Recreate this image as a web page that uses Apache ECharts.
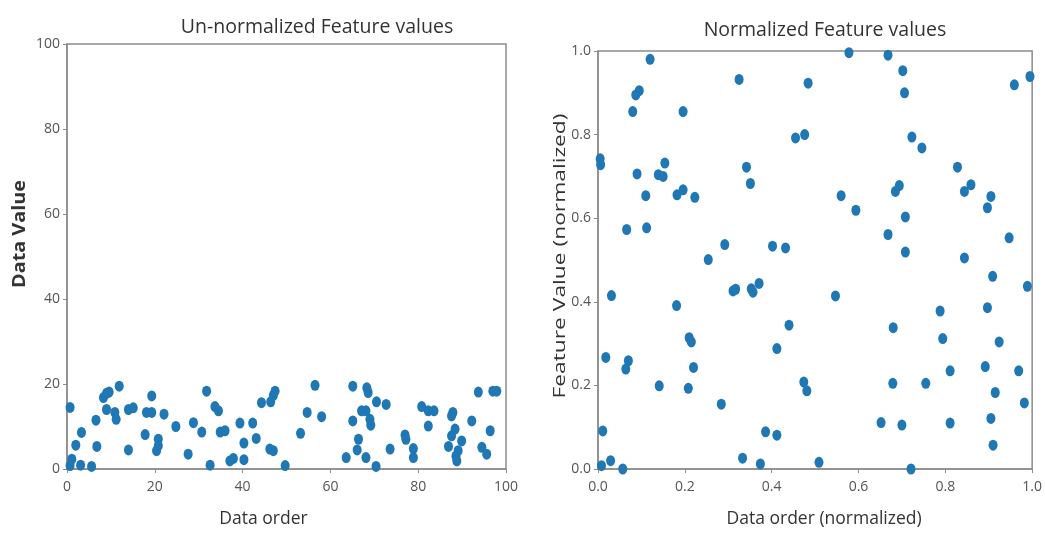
<!DOCTYPE html>
<html>
<head>
<meta charset="utf-8">
<title>Feature values</title>
<script src="https://cdn.jsdelivr.net/npm/echarts@6/dist/echarts.min.js"></script>
<style>
  html, body { margin: 0; padding: 0; background: #fff; }
  #chart { width: 1045px; height: 533px; }
</style>
</head>
<body>
<div id="chart"></div>
<script>
// left panel: raw values (data order 0..100, value 0..100)
var rawX = [0.7, 1.1, 0.7, 2.0, 3.3, 3.1, 5.6, 6.6, 6.8, 8.3, 9.0, 9.6, 9.0, 10.9, 11.2, 11.9,
  14.0, 15.1, 14.0, 17.8, 18.1, 19.3, 19.3, 20.8, 20.8, 20.4, 22.1, 24.8, 27.6, 28.8, 30.7,
  31.8, 32.6, 33.7, 34.5, 34.9, 36.0, 37.1, 37.9, 39.4, 40.3, 40.3, 42.3, 43.1, 44.3, 46.4,
  47.0, 47.4, 46.2, 47.0, 49.7, 56.5, 54.7, 58.0, 53.2, 65.1, 68.3, 68.6, 70.5, 72.7, 67.1,
  68.1, 65.1, 69.0, 69.2, 66.4, 66.1, 63.6, 68.1, 70.4, 73.6, 77.0, 77.2, 78.9, 78.9, 80.8,
  82.3, 83.6, 82.3, 87.9, 87.6, 88.4, 87.6, 89.9, 86.9, 89.1, 88.6, 88.8, 92.2, 93.7, 97.0,
  97.9, 96.4, 94.5, 95.6];
var rawY = [14.5, 2.3, 0.8, 5.6, 8.6, 0.9, 0.6, 11.5, 5.3, 16.8, 17.8, 18.1, 14.0, 13.3, 11.7, 19.5,
  14.0, 14.4, 4.5, 8.1, 13.3, 13.3, 17.2, 7.0, 5.5, 4.3, 12.9, 10.0, 3.5, 10.9, 8.7,
  18.3, 0.9, 14.7, 13.7, 8.7, 9.0, 1.9, 2.5, 10.8, 6.1, 2.2, 10.8, 7.2, 15.6, 15.8,
  17.3, 18.3, 4.7, 4.3, 0.8, 19.7, 13.3, 12.3, 8.4, 19.5, 19.1, 18.0, 15.8, 15.2, 13.7,
  13.7, 11.3, 11.7, 10.3, 7.0, 4.5, 2.7, 2.7, 0.6, 4.7, 8.0, 7.0, 4.8, 2.7, 14.7,
  13.7, 13.7, 10.1, 13.3, 12.5, 9.4, 7.8, 6.6, 5.3, 4.3, 3.0, 1.9, 11.3, 18.1, 18.3,
  18.3, 9.0, 5.1, 3.5];

// right panel: normalized values
var normX = [0.120, 0.095, 0.087, 0.080, 0.196, 0.325, 0.484, 0.455, 0.476, 0.005, 0.006, 0.154,
  0.090, 0.139, 0.150, 0.342, 0.351, 0.110, 0.182, 0.196, 0.223, 0.066, 0.112, 0.292, 0.402,
  0.432, 0.254, 0.578, 0.668, 0.702, 0.706, 0.959, 0.995, 0.723, 0.746, 0.828, 0.859, 0.844,
  0.905, 0.897, 0.560, 0.594, 0.694, 0.685, 0.708, 0.668, 0.947, 0.708, 0.844, 0.031, 0.181,
  0.311, 0.317, 0.353, 0.357, 0.371, 0.440, 0.412, 0.210, 0.215, 0.018, 0.070, 0.064, 0.220,
  0.141, 0.208, 0.284, 0.474, 0.481, 0.011, 0.386, 0.412, 0.029, 0.008, 0.057, 0.333, 0.374,
  0.509, 0.909, 0.989, 0.547, 0.788, 0.897, 0.680, 0.794, 0.924, 0.811, 0.892, 0.969, 0.679,
  0.755, 0.915, 0.982, 0.652, 0.700, 0.811, 0.905, 0.910, 0.721];
var normY = [0.980, 0.905, 0.895, 0.855, 0.855, 0.932, 0.923, 0.792, 0.800, 0.742, 0.728, 0.732,
  0.706, 0.704, 0.700, 0.722, 0.683, 0.654, 0.656, 0.668, 0.650, 0.573, 0.577, 0.537, 0.533,
  0.529, 0.501, 0.996, 0.990, 0.953, 0.900, 0.919, 0.939, 0.794, 0.768, 0.722, 0.680, 0.664,
  0.652, 0.625, 0.654, 0.619, 0.678, 0.664, 0.603, 0.561, 0.553, 0.519, 0.505, 0.415, 0.391,
  0.426, 0.430, 0.431, 0.423, 0.444, 0.344, 0.288, 0.314, 0.304, 0.267, 0.259, 0.239, 0.243,
  0.199, 0.193, 0.155, 0.208, 0.187, 0.091, 0.089, 0.081, 0.020, 0.008, 0.000, 0.026, 0.012,
  0.016, 0.461, 0.437, 0.414, 0.378, 0.386, 0.338, 0.312, 0.304, 0.235, 0.245, 0.235, 0.205,
  0.205, 0.183, 0.158, 0.111, 0.105, 0.110, 0.121, 0.057, 0.000];

var rawTicks = [0, 20, 40, 60, 80, 100];
var normTicks = [0.0, 0.2, 0.4, 0.6, 0.8, 1.0];

function pairs(xs, ys) {
  return xs.map(function (x, i) { return [x, ys[i]]; });
}

var FONT = '"Open Sans", "DejaVu Sans", sans-serif';
var dotColor = '#1f77b4';
var frame = '#8c8c8c';

// the source picture is stretched vertically, so the rotated labels are longer
var measureCtx = document.createElement('canvas').getContext('2d');
function stretchFor(text, font, targetLen) {
  measureCtx.font = font;
  return targetLen / measureCtx.measureText(text).width;
}

function axisCommon(ticks, digits, isX) {
  return {
    type: 'value',
    min: ticks[0],
    max: ticks[ticks.length - 1],
    interval: ticks[1] - ticks[0],
    splitLine: { show: false },
    axisLine: { show: true, onZero: false, lineStyle: { color: frame, width: 1.5 } },
    axisTick: { show: true, length: 4, lineStyle: { color: frame } },
    axisLabel: {
      color: '#555', fontSize: 14, fontFamily: FONT, margin: isX ? 11 : 7,
      formatter: function (v) { return digits ? v.toFixed(digits) : String(v); }
    },
    nameLocation: 'middle',
    nameTextStyle: { color: '#333', fontSize: 17.5, fontFamily: FONT }
  };
}

var chart = echarts.init(document.getElementById('chart'));

var xLeft = axisCommon(rawTicks, 0, true);
xLeft.gridIndex = 0; xLeft.name = 'Data order'; xLeft.nameGap = 41;
xLeft.nameTextStyle.padding = [0, 46, 0, 0];
var yLeft = axisCommon(rawTicks, 0, false);
yLeft.gridIndex = 0;
var xRight = axisCommon(normTicks, 1, true);
xRight.gridIndex = 1; xRight.name = 'Data order (normalized)'; xRight.nameGap = 41;
xRight.nameTextStyle.padding = [0, 0, 0, 18];
var yRight = axisCommon(normTicks, 1, false);
yRight.gridIndex = 1;

var leftYFont = 'bold 17px "Open Sans"';
var rightYFont = '17px "Open Sans"';

var option = {
  backgroundColor: '#fff',
  animation: false,
  title: [
    {
      text: 'Un-normalized Feature values',
      left: 312, top: 12, textAlign: 'center',
      textStyle: { color: '#333', fontSize: 19.5, fontWeight: 'normal', fontFamily: FONT }
    },
    {
      text: 'Normalized Feature values',
      left: 820, top: 15, textAlign: 'center',
      textStyle: { color: '#333', fontSize: 19.5, fontWeight: 'normal', fontFamily: FONT }
    }
  ],
  grid: [
    { left: 67, top: 44, width: 439, height: 427, show: true, borderColor: frame, borderWidth: 1.5 },
    { left: 598, top: 51, width: 435, height: 419, show: true, borderColor: frame, borderWidth: 1.5 }
  ],
  xAxis: [xLeft, xRight],
  yAxis: [yLeft, yRight],
  graphic: [
    {
      type: 'text', x: 20, y: 234, rotation: Math.PI / 2,
      scaleX: stretchFor('Data Value', leftYFont, 108),
      style: {
        text: 'Data Value', font: leftYFont, fill: '#333',
        align: 'center', verticalAlign: 'middle'
      }
    },
    {
      type: 'text', x: 560, y: 256, rotation: Math.PI / 2,
      scaleX: stretchFor('Feature Value (normalized)', rightYFont, 285),
      style: {
        text: 'Feature Value (normalized)', font: rightYFont, fill: '#333',
        align: 'center', verticalAlign: 'middle'
      }
    }
  ],
  series: [
    {
      type: 'scatter', xAxisIndex: 0, yAxisIndex: 0,
      symbolSize: [9, 11],
      itemStyle: { color: dotColor, opacity: 1 },
      data: pairs(rawX, rawY)
    },
    {
      type: 'scatter', xAxisIndex: 1, yAxisIndex: 1,
      symbolSize: [9, 11],
      itemStyle: { color: dotColor, opacity: 1 },
      data: pairs(normX, normY)
    }
  ]
};

chart.setOption(option);
</script>
</body>
</html>
